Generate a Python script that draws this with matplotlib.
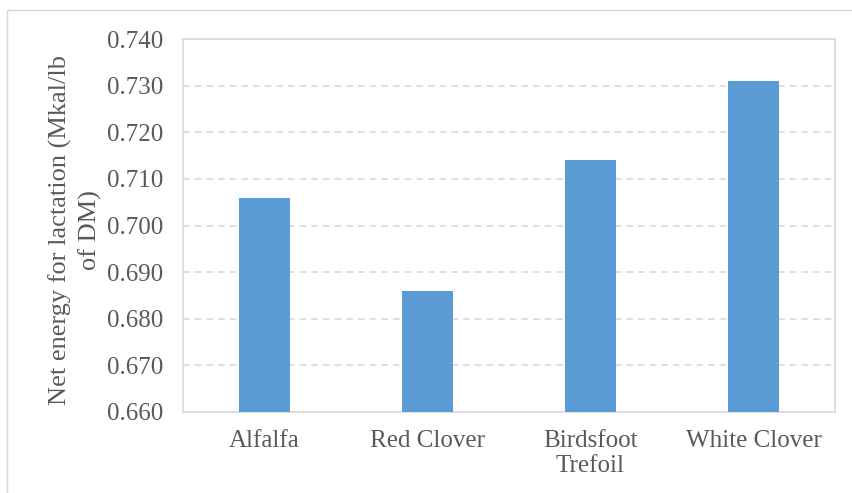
import numpy as np
import matplotlib
matplotlib.use("Agg")
import matplotlib.pyplot as plt
from matplotlib.patches import Rectangle

categories = ["Alfalfa", "Red Clover", "Birdsfoot\nTrefoil", "White Clover"]
values = [0.706, 0.686, 0.714, 0.731]
yticks = [0.660, 0.670, 0.680, 0.690, 0.700, 0.710, 0.720, 0.730, 0.740]

plt.rcParams["font.family"] = ["Liberation Serif", "DejaVu Serif"]
text_color = "#595959"
grid_color = "#D9D9D9"

W, H = 852, 493
fig = plt.figure(figsize=(W / 100, H / 100), dpi=100)
ax = fig.add_axes([183 / W, 1 - 412 / H, (835 - 183) / W, (412 - 39) / H])

x = np.arange(len(categories))
ax.bar(x, values, width=0.31, color="#5B9BD5", zorder=3)

ax.set_xlim(-0.5, len(categories) - 0.5)
ax.set_ylim(yticks[0], yticks[-1])
ax.set_yticks(yticks)
ax.set_yticklabels([f"{v:.3f}" for v in yticks])
ax.set_xticks(x)
ax.set_xticklabels(categories, linespacing=1.2)
ax.tick_params(axis="both", length=0, labelsize=18, colors=text_color)
ax.tick_params(axis="y", pad=14.5)
ax.tick_params(axis="x", pad=13)

ax.yaxis.grid(True, color=grid_color, ls=(0, (4, 3)), lw=1.2, zorder=0)
for s in ax.spines.values():
    s.set_color(grid_color)
    s.set_linewidth(1.2)

fig.text(75 / W, 1 - 230 / H, "Net energy for lactation (Mkal/lb\nof DM)",
         rotation=90, ha="center", va="center", multialignment="center",
         fontsize=19, color=text_color, linespacing=1.35)

fig.patches.append(Rectangle((7 / W, -0.01), 1.2, 1 - 10 / H + 0.01,
                             transform=fig.transFigure, fill=False,
                             edgecolor=grid_color, lw=1.0))

fig.savefig("out.png", dpi=100)
